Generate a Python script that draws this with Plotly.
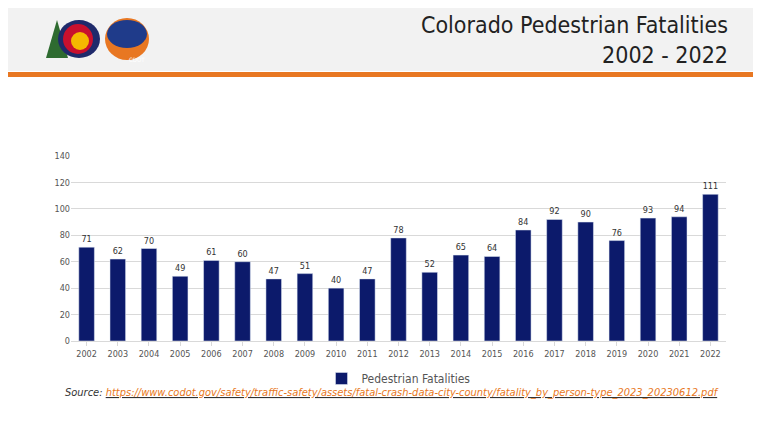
import plotly.graph_objects as go

years = [str(y) for y in range(2002, 2023)]
fatalities = [71, 62, 70, 49, 61, 60, 47, 51, 40, 47, 78, 52, 65, 64, 84, 92, 90, 76, 93, 94, 111]
series_name = "Pedestrian Fatalities"

W, H = 761, 421
L, R, T, B = 63, 43, 148, 88
PW, PH = W - L - R, H - T - B

def fx(x):
    return (x - L) / PW

def fy(y):
    return (H - B - y) / PH

fig = go.Figure(go.Bar(
    x=years, y=fatalities, name=series_name, marker_color="#0c1a6b", width=0.5,
    text=fatalities, textposition="outside", textfont=dict(size=9, color="#333"),
    cliponaxis=False, showlegend=True))

def rect(x0, y0, x1, y1, **kw):
    return dict(xref="paper", yref="paper", x0=fx(x0), x1=fx(x1), y0=fy(y0), y1=fy(y1), **kw)

font_main = "DejaVu Sans Condensed, Liberation Sans Narrow, sans-serif"

fig.update_layout(
    width=W, height=H, margin=dict(l=L, r=R, t=T, b=B),
    paper_bgcolor="white", plot_bgcolor="white",
    font=dict(family=font_main, color="#555"),
    xaxis=dict(tickfont=dict(size=9), showline=True, linecolor="#d9d9d9", ticks="outside",
               tickcolor="#d9d9d9", ticklen=4),
    yaxis=dict(range=[0, 140], dtick=20, tickfont=dict(size=9), gridcolor="#d9d9d9",
               zeroline=False),
    legend=dict(orientation="h", x=0.5, xanchor="center", y=fy(356), yanchor="top",
                font=dict(size=12, color="#555"), itemwidth=30),
    shapes=[
        rect(0, 0, W, 63, type="rect", fillcolor="#f2f2f2", line_width=0, layer="below"),
        rect(0, 64, W, 69, type="rect", fillcolor="#e87722", line_width=0),
        dict(type="path", xref="paper", yref="paper",
             path=f"M {fx(38)},{fy(50)} L {fx(49)},{fy(12)} L {fx(60)},{fy(50)} Z",
             fillcolor="#2e6b30", line_width=0),
        rect(50, 12, 92, 50, type="circle", fillcolor="#1f2a6b", line_width=0),
        rect(55, 16, 85, 46, type="circle", fillcolor="#c8102e", line_width=0),
        rect(63, 24, 81, 42, type="circle", fillcolor="#f5b800", line_width=0),
        rect(97, 10, 141, 52, type="circle", fillcolor="#e87722", line_width=0),
        rect(99, 12, 139, 40, type="circle", fillcolor="#1f3b8a", line_width=0),
    ],
    annotations=[
        dict(text="Colorado Pedestrian Fatalities<br>2002 - 2022", xref="paper", yref="paper",
             x=fx(722), y=fy(2), xanchor="right", yanchor="top", align="right", showarrow=False,
             font=dict(size=23, color="#222", family=font_main)),
        dict(text="CDOT", xref="paper", yref="paper", x=fx(119), y=fy(46), showarrow=False,
             font=dict(size=6, color="white")),
        dict(text="<i>Source: </i><i><u><span style='color:#e87722'>https://www.codot.gov/safety/traffic-safety/assets/fatal-crash-data-city-county/fatality_by_person-type_2023_20230612.pdf</span></u></i>",
             xref="paper", yref="paper", x=fx(384), y=fy(393), showarrow=False,
             font=dict(size=11, color="#333", family=font_main)),
    ],
)
fig.write_html("out.html")
